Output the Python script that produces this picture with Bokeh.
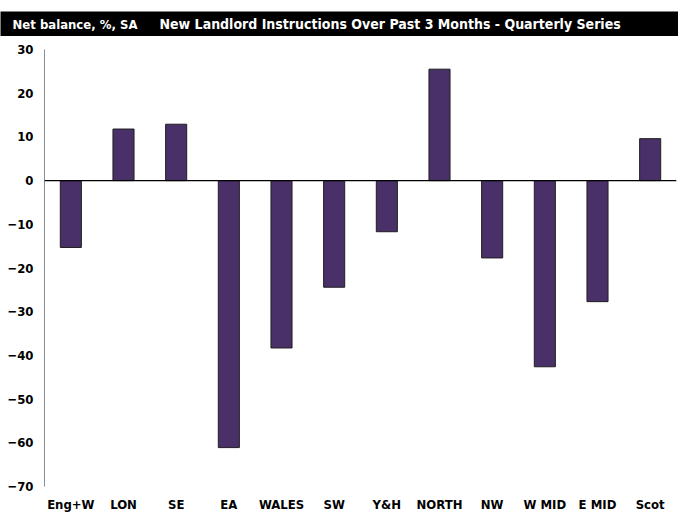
from bokeh.plotting import figure
from bokeh.models import FactorRange, Range1d, FixedTicker, Span, ColumnDataSource
from bokeh.core.properties import value
from bokeh.embed import file_html
from bokeh.resources import INLINE

categories = ["Eng+W", "LON", "SE", "EA", "WALES", "SW", "Y&H", "NORTH", "NW", "W MID", "E MID", "Scot"]
net_balance = [-15.3, 11.8, 12.9, -61.1, -38.3, -24.4, -11.7, 25.5, -17.7, -42.6, -27.7, 9.6]
y_ticks = [30, 20, 10, 0, -10, -20, -30, -40, -50, -60, -70]
header_left = "Net balance, %, SA"
header_title = "New Landlord Instructions Over Past 3 Months - Quarterly Series"

FONT = "DejaVu Sans Condensed"
BAR = "#4A3068"
W = 678

# header band: its own small figure without axes (frame = black band)
hdr = figure(width=W, height=36, x_range=Range1d(0, W), y_range=Range1d(0, 25),
             x_axis_location=None, y_axis_location=None,
             output_backend="svg", toolbar_location=None,
             min_border_left=0, min_border_right=0, min_border_bottom=0, min_border_top=11)
hdr.grid.visible = False
hdr.outline_line_color = None
hdr.background_fill_color = "black"
hdr.border_fill_color = "white"
hdr.text(x=[12], y=[12.5], text=[header_left], text_color="white", text_font=value(FONT),
         text_font_style="bold", text_font_size="13px", text_baseline="middle")
hdr.text(x=[159], y=[12.5], text=[header_title], text_color="white", text_font=value(FONT),
         text_font_style="bold", text_font_size="14px", text_baseline="middle")

src = ColumnDataSource(dict(cat=categories, val=net_balance))

p = figure(width=W, frame_height=437, x_range=FactorRange(*categories, range_padding=0),
           y_range=Range1d(-70, 30), output_backend="svg", toolbar_location=None,
           min_border_left=44, min_border_right=2, min_border_top=13, min_border_bottom=0)
p.vbar(x="cat", top="val", bottom=0, width=0.4, source=src,
       fill_color=BAR, line_color="#1e1e1e", line_width=1)
p.add_layout(Span(location=0, dimension="width", line_color="black", line_width=1.2))

p.grid.visible = False
p.outline_line_color = None

p.yaxis.ticker = FixedTicker(ticks=y_ticks)
p.yaxis.axis_line_color = "#8c8c8c"
p.yaxis.major_tick_line_color = None
p.yaxis.minor_tick_line_color = None
p.yaxis.major_tick_out = 0
p.yaxis.major_tick_in = 0
p.yaxis.major_label_text_font = FONT
p.yaxis.major_label_text_font_style = "bold"
p.yaxis.major_label_text_font_size = "13px"
p.yaxis.major_label_text_color = "black"
p.yaxis.major_label_standoff = 11

p.xaxis.axis_line_color = None
p.xaxis.major_tick_line_color = None
p.xaxis.minor_tick_line_color = None
p.xaxis.major_tick_out = 0
p.xaxis.major_tick_in = 0
p.xaxis.major_label_text_font = FONT
p.xaxis.major_label_text_font_style = "bold"
p.xaxis.major_label_text_font_size = "13px"
p.xaxis.major_label_text_color = "black"
p.xaxis.major_label_standoff = 10

open("out.html", "w").write(file_html([hdr, p], INLINE))
